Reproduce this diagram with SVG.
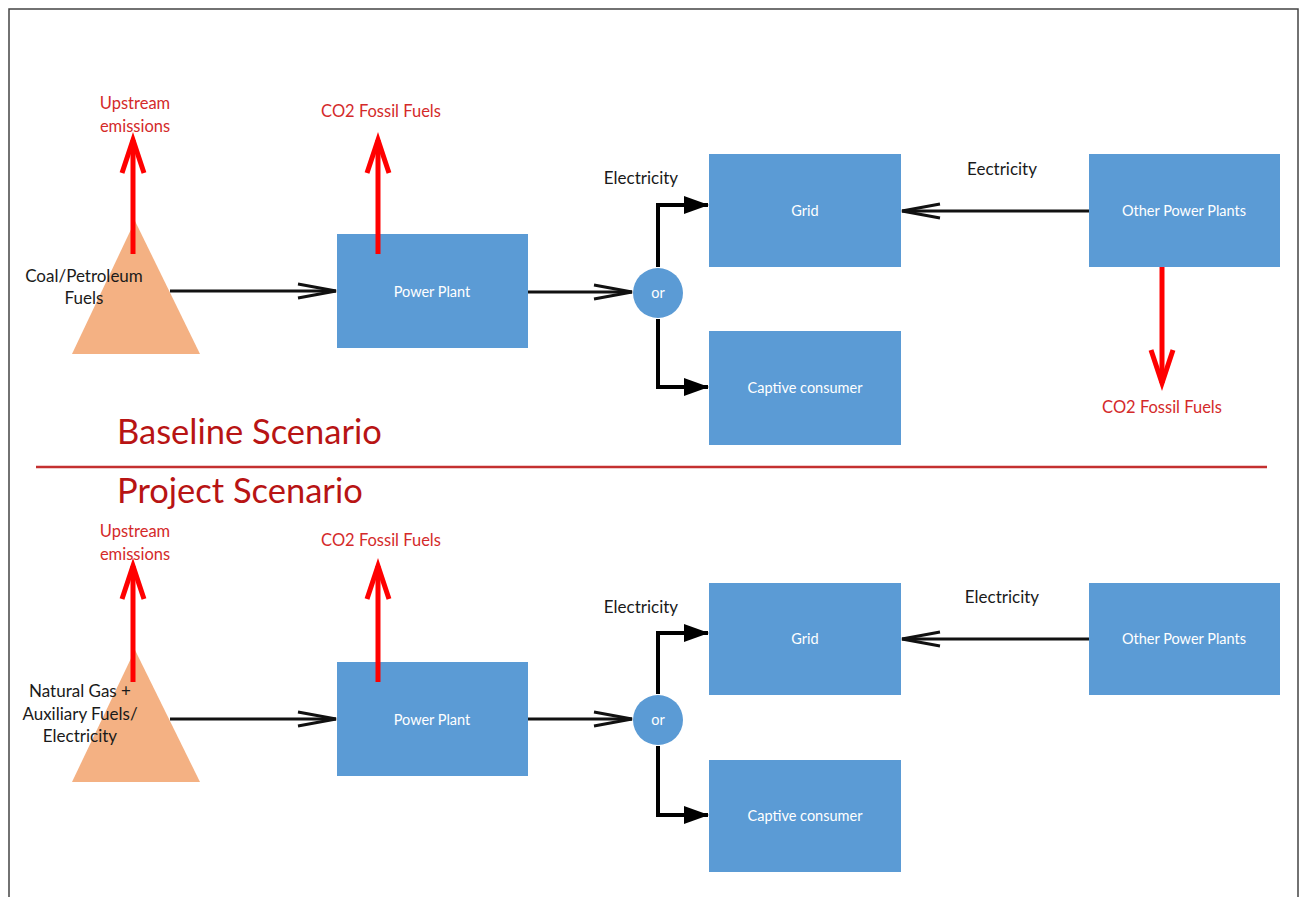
<svg xmlns="http://www.w3.org/2000/svg" width="1304" height="897" viewBox="0 0 1304 897">
<style>
.box{fill:#5b9bd5;}
.tri{fill:#f4b183;}
.bt{font-family:Lato,"Liberation Sans",sans-serif;font-size:14.5px;fill:#ffffff;text-anchor:middle;}
.lbl{font-family:Lato,"Liberation Sans",sans-serif;font-size:17px;fill:#1a1a1a;text-anchor:middle;}
.fl{font-family:Lato,"Liberation Sans",sans-serif;font-size:17px;fill:#1a1a1a;text-anchor:middle;}
.red{font-family:Lato,"Liberation Sans",sans-serif;font-size:16.5px;fill:#d42a2a;text-anchor:middle;}
.title{font-family:Lato,"Liberation Sans",sans-serif;font-size:34.5px;fill:#b81414;}
.flow{stroke:#111;stroke-width:3;fill:none;}
.elbow{stroke:#000;stroke-width:4;fill:none;}
.emis{stroke:#ff0000;stroke-width:5;fill:none;}
</style>
<defs>
<marker id="open" markerUnits="userSpaceOnUse" markerWidth="44" markerHeight="18" refX="40" refY="9" orient="auto" overflow="visible">
<path d="M2,2 L40,9 L2,16" fill="none" stroke="#111" stroke-width="3"/>
</marker>
<marker id="filled" markerUnits="userSpaceOnUse" markerWidth="26" markerHeight="18" refX="24" refY="9" orient="auto" overflow="visible">
<path d="M0,0 L25,9 L0,18 Z" fill="#000"/>
</marker>
<marker id="redhead" markerUnits="userSpaceOnUse" markerWidth="38" markerHeight="28" refX="35" refY="13" orient="auto" overflow="visible">
<path d="M2,2 L35,13 L2,24" fill="none" stroke="#ff0000" stroke-width="5"/>
</marker>
</defs>
<rect x="0" y="0" width="1304" height="897" fill="#ffffff"/>
<path d="M9,905 L9,9 L1298,9 L1298,905" fill="none" stroke="#444" stroke-width="1.5"/>

<g id="fuel-top">
<polygon class="tri" points="135,221 72,354 200,354"/>
<text class="fl" x="84" y="282">Coal/Petroleum</text>
<text class="fl" x="84" y="304">Fuels</text>
</g>
<g id="plant-top"><rect class="box" x="337" y="234" width="191" height="114"/><text class="bt" x="432" y="297">Power Plant</text></g>
<g id="or-top"><circle class="box" cx="658" cy="293" r="25"/><text class="bt" x="658" y="298">or</text></g>
<g id="grid-top"><rect class="box" x="709" y="154" width="192" height="113"/><text class="bt" x="805" y="216">Grid</text></g>
<g id="captive-top"><rect class="box" x="709" y="331" width="192" height="114"/><text class="bt" x="805" y="393">Captive consumer</text></g>
<g id="other-top"><rect class="box" x="1089" y="154" width="191" height="113"/><text class="bt" x="1184" y="216">Other Power Plants</text></g>
<g id="labels-top">
<text class="red" x="135" y="109">Upstream</text>
<text class="red" x="135" y="132">emissions</text>
<text class="red" x="381" y="117">CO2 Fossil Fuels</text>
<text class="red" x="1162" y="413">CO2 Fossil Fuels</text>
<text class="lbl" x="641" y="184">Electricity</text>
<text class="lbl" x="1002" y="175">Eectricity</text>
</g>

<text class="title" x="117" y="444">Baseline Scenario</text>
<line x1="36" y1="467" x2="1267" y2="467" stroke="#c43030" stroke-width="2.5"/>
<text class="title" x="117" y="503">Project Scenario</text>

<g id="fuel-bot">
<polygon class="tri" points="135,650 72,782 200,782"/>
<text class="fl" x="80" y="697">Natural Gas +</text>
<text class="fl" x="80" y="720">Auxiliary Fuels/</text>
<text class="fl" x="80" y="742">Electricity</text>
</g>
<g id="plant-bot"><rect class="box" x="337" y="662" width="191" height="114"/><text class="bt" x="432" y="725">Power Plant</text></g>
<g id="or-bot"><circle class="box" cx="658" cy="720" r="25"/><text class="bt" x="658" y="725">or</text></g>
<g id="grid-bot"><rect class="box" x="709" y="583" width="192" height="112"/><text class="bt" x="805" y="644">Grid</text></g>
<g id="captive-bot"><rect class="box" x="709" y="760" width="192" height="112"/><text class="bt" x="805" y="821">Captive consumer</text></g>
<g id="other-bot"><rect class="box" x="1089" y="583" width="191" height="112"/><text class="bt" x="1184" y="644">Other Power Plants</text></g>
<g id="labels-bot">
<text class="red" x="135" y="537">Upstream</text>
<text class="red" x="135" y="560">emissions</text>
<text class="red" x="381" y="546">CO2 Fossil Fuels</text>
<text class="lbl" x="641" y="613">Electricity</text>
<text class="lbl" x="1002" y="603">Electricity</text>
</g>

<g id="connectors">
<line class="emis" x1="133" y1="254" x2="133" y2="140" marker-end="url(#redhead)"/>
<line class="emis" x1="378" y1="254" x2="378" y2="140" marker-end="url(#redhead)"/>
<line class="emis" x1="1162" y1="267" x2="1162" y2="383" marker-end="url(#redhead)"/>
<line class="flow" x1="170" y1="291" x2="336" y2="291" marker-end="url(#open)"/>
<line class="flow" x1="528" y1="292" x2="632" y2="292" marker-end="url(#open)"/>
<line class="flow" x1="1089" y1="211" x2="902" y2="211" marker-end="url(#open)"/>
<path class="elbow" d="M658,267 L658,205 L708,205" marker-end="url(#filled)"/>
<path class="elbow" d="M658,319 L658,387 L708,387" marker-end="url(#filled)"/>

<line class="emis" x1="133" y1="682" x2="133" y2="566" marker-end="url(#redhead)"/>
<line class="emis" x1="378" y1="682" x2="378" y2="566" marker-end="url(#redhead)"/>
<line class="flow" x1="170" y1="719" x2="336" y2="719" marker-end="url(#open)"/>
<line class="flow" x1="528" y1="719" x2="632" y2="719" marker-end="url(#open)"/>
<line class="flow" x1="1089" y1="639" x2="902" y2="639" marker-end="url(#open)"/>
<path class="elbow" d="M658,694 L658,633 L708,633" marker-end="url(#filled)"/>
<path class="elbow" d="M658,746 L658,815 L708,815" marker-end="url(#filled)"/>
</g>
</svg>
